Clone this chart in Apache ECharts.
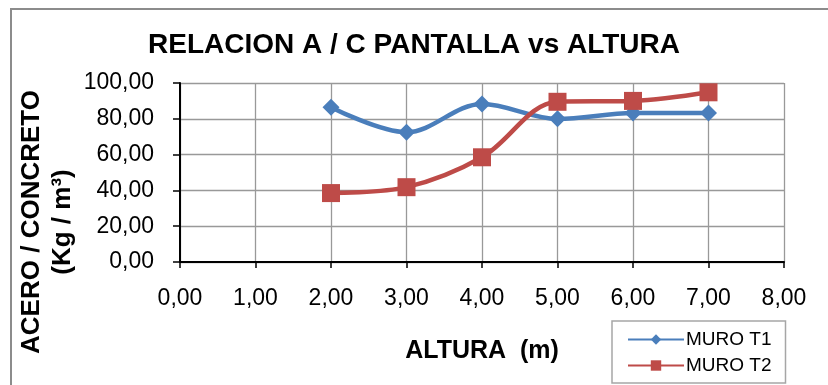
<!DOCTYPE html>
<html>
<head>
<meta charset="utf-8">
<script src="https://cdn.jsdelivr.net/npm/echarts@6/dist/echarts.min.js"></script>
<style>
  html, body { margin: 0; padding: 0; background: #fff; }
  #chart { width: 828px; height: 385px; }
</style>
</head>
<body>
<div id="chart"></div>
<script>
// Height (m) and steel/concrete ratio (Kg/m3) for each wall type
const alturas = [2, 3, 4, 5, 6, 7];
const muroT1 = [86.5, 72.5, 88.3, 80.0, 83.2, 83.3];
const muroT2 = [38.5, 41.8, 58.5, 89.5, 90.0, 94.8];
const xTickLabels = ['0,00', '1,00', '2,00', '3,00', '4,00', '5,00', '6,00', '7,00', '8,00'];
const yTickLabels = ['0,00', '20,00', '40,00', '60,00', '80,00', '100,00'];

const pairs = (xs, ys) => xs.map((x, i) => [x, ys[i]]);
const FONT = '"Liberation Sans", Arial, sans-serif';

const chart = echarts.init(document.getElementById('chart'), null, { renderer: 'canvas' });

chart.setOption({
  backgroundColor: '#ffffff',
  animation: false,
  title: {
    text: 'RELACION A / C PANTALLA vs ALTURA',
    left: 'center',
    top: 31,
    padding: 0,
    textStyle: { fontFamily: FONT, fontSize: 28, fontWeight: 'bold', color: '#000', lineHeight: 28 }
  },
  graphic: [
    // chart frame (top and left edges visible)
    { type: 'polyline', shape: { points: [[11, 400], [11, 9], [840, 9]] },
      style: { stroke: '#8c8c8c', lineWidth: 2, fill: null } },
    // y axis name, two lines
    { type: 'text', x: 32, y: 222, rotation: Math.PI / 2,
      style: { text: 'ACERO / CONCRETO', font: 'bold 26px ' + FONT, fill: '#000',
               align: 'center', verticalAlign: 'middle' } },
    { type: 'text', x: 63, y: 222, rotation: Math.PI / 2,
      style: { text: '(Kg / m³)', font: 'bold 26px ' + FONT, fill: '#000',
               align: 'center', verticalAlign: 'middle' } },
    // x axis name
    { type: 'text', x: 482, y: 351,
      style: { text: 'ALTURA  (m)', font: 'bold 25px ' + FONT, fill: '#000',
               align: 'center', verticalAlign: 'middle' } }
  ],
  legend: {
    left: 612,
    top: 321,
    orient: 'vertical',
    padding: [9, 14, 8, 15],
    itemGap: 7,
    itemWidth: 56,
    itemHeight: 13,
    borderColor: '#a6a6a6',
    borderWidth: 1.5,
    textStyle: { fontFamily: FONT, fontSize: 19, color: '#000', padding: [0, 0, 0, -3] },
    data: ['MURO T1', 'MURO T2']
  },
  grid: { left: 180, right: 44, top: 83, bottom: 123, containLabel: false },
  xAxis: {
    type: 'value',
    min: 0, max: 8, interval: 1,
    axisLine: { onZero: false, lineStyle: { color: '#000', width: 2 } },
    axisTick: { show: true, length: 6, inside: false, lineStyle: { color: '#000', width: 1.5 } },
    splitLine: { show: true, lineStyle: { color: '#999999', width: 1.3 } },
    axisLabel: {
      fontFamily: FONT, fontSize: 23, color: '#000', margin: 25,
      formatter: v => xTickLabels[Math.round(v)]
    }
  },
  yAxis: {
    type: 'value',
    min: 0, max: 100, interval: 20,
    axisLine: { show: true, lineStyle: { color: '#000', width: 2 } },
    axisTick: { show: true, length: 7, lineStyle: { color: '#000', width: 1.5 } },
    splitLine: { show: true, lineStyle: { color: '#999999', width: 1.3 } },
    axisLabel: {
      fontFamily: FONT, fontSize: 23, color: '#000', margin: 26,
      formatter: v => yTickLabels[Math.round(v / 20)]
    }
  },
  series: [
    {
      name: 'MURO T1',
      type: 'line',
      data: pairs(alturas, muroT1),
      smooth: 0.35,
      symbol: 'diamond',
      symbolSize: 17,
      lineStyle: { color: '#4a7ebb', width: 4.5 },
      itemStyle: { color: '#4a7ebb' }
    },
    {
      name: 'MURO T2',
      type: 'line',
      data: pairs(alturas, muroT2),
      smooth: 0.35,
      symbol: 'rect',
      symbolSize: 18,
      lineStyle: { color: '#be4b48', width: 4.5 },
      itemStyle: { color: '#be4b48' }
    }
  ]
});
</script>
</body>
</html>
